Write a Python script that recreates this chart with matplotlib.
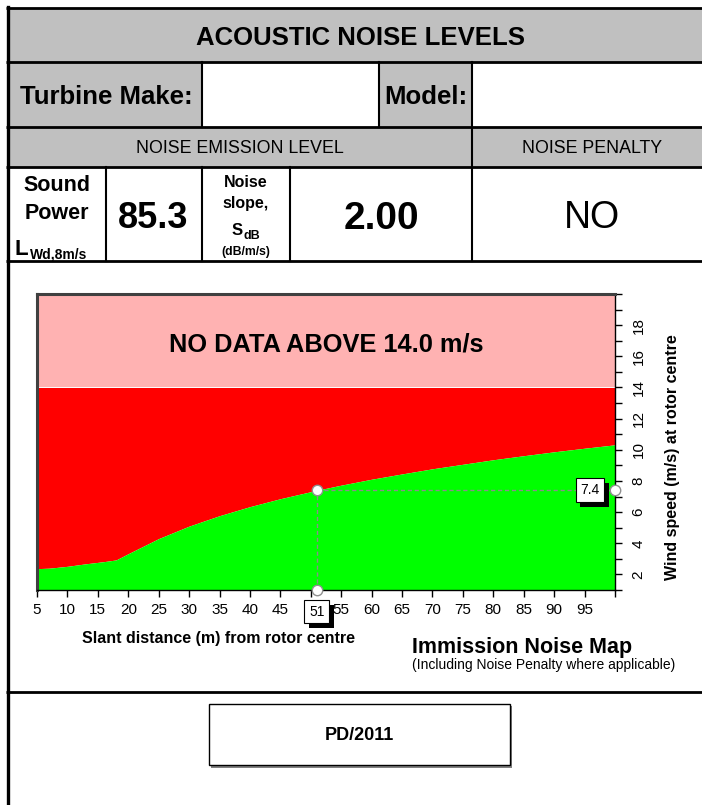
import matplotlib
matplotlib.use('Agg')
import matplotlib.pyplot as plt
from matplotlib.patches import Rectangle
import matplotlib.patheffects as pe

# ---------------- data ----------------
distance_m = [5, 7, 10, 13, 16, 18, 20, 25, 30, 35, 40, 45, 51, 55, 60, 65, 70, 75, 80, 85, 90, 95, 100]
limit_wind_ms = [2.37, 2.40, 2.52, 2.68, 2.82, 2.93, 3.33, 4.30, 5.10, 5.77, 6.35, 6.86, 7.40,
                 7.73, 8.11, 8.45, 8.78, 9.07, 9.36, 9.62, 9.87, 10.10, 10.32]
data_cap_ms = 14.0
wind_min_ms = 1
wind_max_ms = 20
dist_min_m = 5
dist_max_m = 100
receptor_distance_m = 51
receptor_wind_ms = 7.4
x_ticks = list(range(5, 101, 5))
# the "50" label is hidden behind the receptor box in the reference; 100 is unlabeled
x_tick_labels = ['5', '10', '15', '20', '25', '30', '35', '40', '45', '', '55', '60', '65',
                 '70', '75', '80', '85', '90', '95', '']
y_ticks = list(range(1, 21))
y_tick_labels = ['', '2', '', '4', '', '6', '', '8', '', '10', '', '12', '', '14', '', '16',
                 '', '18', '', '']
sound_power = "85.3"
noise_slope = "2.00"
noise_penalty = "NO"
reference_code = "PD/2011"

FONT = 'Liberation Sans'
plt.rcParams['font.family'] = [FONT, 'DejaVu Sans']

GRAY = '#C0C0C0'
GREEN = '#00FF00'
RED = '#FF0000'
PINK = '#FFB2B2'

W, H = 702, 805
fig = plt.figure(figsize=(W / 100, H / 100), dpi=100)
bg = fig.add_axes([0, 0, 1, 1])
bg.set_xlim(0, W)
bg.set_ylim(H, 0)
bg.axis('off')


def ctext(x, yc, s, pt, bold=False, ha='center', **kw):
    """Place text with cap-height centred at pixel yc."""
    px = pt * 100 / 72
    yb = yc + 0.716 * px / 2
    bg.text(x, yb, s, fontsize=pt, fontweight='bold' if bold else 'normal',
            ha=ha, va='baseline', **kw)


# gray cells
for (x0, y0, x1, y1) in [(8, 8, 702, 62), (8, 62, 202, 127), (379, 62, 472, 127), (8, 127, 702, 167)]:
    bg.add_patch(Rectangle((x0, y0), x1 - x0, y1 - y0, fc=GRAY, ec='none', zorder=1))

LW = 2.0
for y in [8.5, 62, 127, 167, 261, 692]:
    bg.plot([6, 702], [y, y], color='black', lw=LW, solid_capstyle='butt', zorder=3)
bg.plot([7.5, 7.5], [7.5, 805], color='black', lw=2.4, zorder=3)
for (x, y0, y1) in [(202, 62, 127), (379, 62, 127), (472, 62, 261), (202, 167, 261),
                    (106, 167, 261), (290, 167, 261)]:
    bg.plot([x, x], [y0, y1], color='black', lw=1.5, zorder=3)

# header texts
ctext(360, 36, "ACOUSTIC NOISE LEVELS", 18.5, bold=True)
ctext(106, 94.5, "Turbine Make:", 18.5, bold=True)
ctext(426, 94.5, "Model:", 18.5, bold=True)
ctext(240, 147, "NOISE EMISSION LEVEL", 12.8)
ctext(592, 147, "NOISE PENALTY", 12.8)

ctext(57, 183, "Sound", 15.5, bold=True)
ctext(57, 211, "Power", 15.5, bold=True)
bg.text(15, 255, "L", fontsize=16, fontweight='bold', ha='left', va='baseline')
bg.text(30, 258, "Wd,8m/s", fontsize=10, fontweight='bold', ha='left', va='baseline')
ctext(153, 215, sound_power, 26, bold=True)
ctext(246, 181, "Noise", 11.5, bold=True)
bg.text(246, 208, "slope,", fontsize=11.5, fontweight='bold', ha='center', va='baseline')
bg.text(243, 235, "S", fontsize=12, fontweight='bold', ha='right', va='baseline')
bg.text(243, 239, "dB", fontsize=9, fontweight='bold', ha='left', va='baseline')
ctext(246, 251, "(dB/m/s)", 8.8, bold=True)
ctext(381, 215, noise_slope, 28, bold=True)
ctext(592, 215, noise_penalty, 27)

# ---------------- chart ----------------
L, R, T, B = 37, 615, 294, 590
ax = fig.add_axes([L / W, (H - B) / H, (R - L) / W, (B - T) / H])
ax.set_xlim(dist_min_m, dist_max_m)
ax.set_ylim(wind_min_ms, wind_max_ms)
ax.axhspan(data_cap_ms, wind_max_ms, color=PINK, lw=0, zorder=0)
ax.fill_between(distance_m, limit_wind_ms, data_cap_ms, color=RED, lw=0, zorder=1)
ax.fill_between(distance_m, wind_min_ms, limit_wind_ms, color=GREEN, lw=0, zorder=1)

ax.set_xticks(x_ticks)
ax.set_xticklabels(x_tick_labels)
ax.yaxis.tick_right()
ax.set_yticks(y_ticks)
ax.set_yticklabels(y_tick_labels, rotation=90, va='center')
ax.tick_params(axis='both', direction='out', length=5, width=1, labelsize=11, pad=4)
ax.tick_params(axis='y', pad=7)
for s in ['left', 'top']:
    ax.spines[s].set_color('#404040')
    ax.spines[s].set_linewidth(2.2)
for s in ['right', 'bottom']:
    ax.spines[s].set_color('black')
    ax.spines[s].set_linewidth(1)

# receptor guide lines and markers
ax.plot([receptor_distance_m, receptor_distance_m], [wind_min_ms, receptor_wind_ms],
        color='#8C8C8C', lw=1, ls=(0, (3, 2)), zorder=3, clip_on=False)
ax.plot([receptor_distance_m, dist_max_m], [receptor_wind_ms, receptor_wind_ms],
        color='#8C8C8C', lw=1, ls=(0, (3, 2)), zorder=3, clip_on=False)
ax.plot([receptor_distance_m, receptor_distance_m, dist_max_m],
        [receptor_wind_ms, wind_min_ms, receptor_wind_ms],
        ls='none', marker='o', ms=7.5, mfc='white', mec='#909090', mew=1, zorder=6, clip_on=False)

shadow = [pe.SimplePatchShadow(offset=(3.5, -3.5), shadow_rgbFace='black', alpha=1), pe.Normal()]
a1 = ax.annotate(f"{receptor_distance_m}", xy=(receptor_distance_m, wind_min_ms),
                 xytext=(0, -15.5), textcoords='offset points', ha='center', va='center',
                 fontsize=10, annotation_clip=False, zorder=7,
                 bbox=dict(boxstyle='square,pad=0.35', fc='white', ec='black', lw=0.8))
a2 = ax.annotate(f"{receptor_wind_ms}", xy=(dist_max_m, receptor_wind_ms),
                 xytext=(-18, 0), textcoords='offset points', ha='center', va='center',
                 fontsize=10, annotation_clip=False, zorder=7,
                 bbox=dict(boxstyle='square,pad=0.35', fc='white', ec='black', lw=0.8))
for a in (a1, a2):
    a.get_bbox_patch().set_path_effects(shadow)

ax.text(0.5, 0.83, f"NO DATA ABOVE {data_cap_ms:.1f} m/s", transform=ax.transAxes,
        fontsize=18.3, fontweight='bold', ha='center', va='center', zorder=5)

# axis titles / captions
bg.text(673, 457, "Wind speed (m/s) at rotor centre", fontsize=11.5, fontweight='bold',
        rotation=90, ha='center', va='center')
ctext(219, 637, "Slant distance (m) from rotor centre", 11.5, bold=True)
ctext(412, 645, "Immission Noise Map", 15.5, bold=True, ha='left')
ctext(412, 664, "(Including Noise Penalty where applicable)", 10, ha='left')

# reference box
bg.add_patch(Rectangle((211, 706), 301, 62, fc='#808080', ec='none', zorder=2))
bg.add_patch(Rectangle((208.5, 703.5), 301, 61.5, fc='white', ec='black', lw=1, zorder=3))
ctext(359, 734, reference_code, 13, bold=True)

fig.savefig('out.png', dpi=100)
